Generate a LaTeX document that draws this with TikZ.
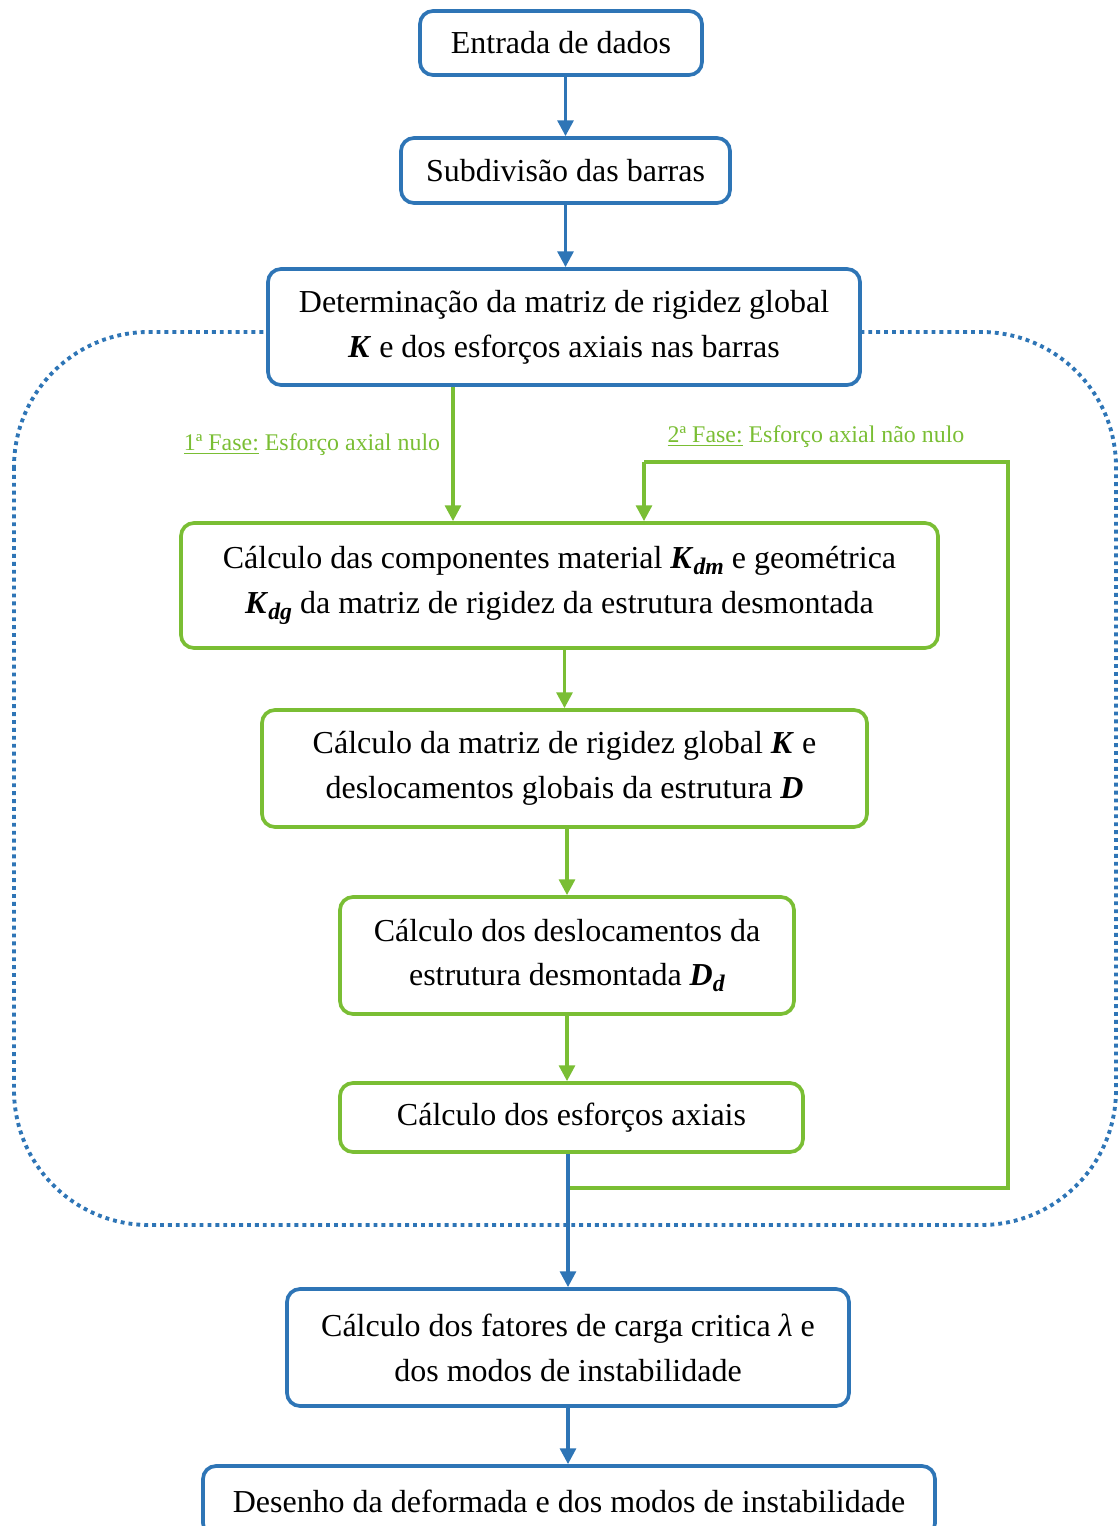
\documentclass[tikz,border=0pt]{standalone}
\usepackage{fontspec}
\setmainfont{Liberation Serif}
\usetikzlibrary{arrows.meta}
\definecolor{azul}{RGB}{46,117,182}
\definecolor{verde}{RGB}{122,190,52}
\newcommand{\bi}[1]{\textbf{\textit{#1}}}
\newcommand{\bsub}[1]{\raisebox{-0.4ex}{\fontsize{13.5}{14}\selectfont\bi{#1}}}
\begin{document}
\begin{tikzpicture}[
  bluebox/.style={draw=azul, line width=2.1pt, rounded corners=0.26cm, fill=white, align=center, font=\fontsize{18.2}{25.5}\selectfont},
  greenbox/.style={draw=verde, line width=2.1pt, rounded corners=0.26cm, fill=white, align=center, font=\fontsize{18.2}{25.5}\selectfont},
  bluearr/.style={draw=azul, line width=2pt, -{Triangle[length=9pt,width=9pt]}},
  greenarr/.style={draw=verde, line width=2pt, -{Triangle[length=9pt,width=9pt]}},
  fase/.style={text=verde, font=\fontsize{13.6}{16}\selectfont}
]
\useasboundingbox (0,0) rectangle (22.34,-30.52);
% ciclo iterativo
\path[draw=azul, line width=2.2pt, dash pattern=on 2.2pt off 2.3pt, rounded corners=2.7cm] (0.28,-6.64) rectangle (22.32,-24.5);
\node[bluebox, minimum width=5.64cm, minimum height=1.28cm] (e1) at (11.22,-0.86) {Entrada de dados};
\node[bluebox, minimum width=6.58cm, minimum height=1.30cm] (e2) at (11.31,-3.41) {Subdivisão das barras};
\node[bluebox, minimum width=11.84cm, minimum height=2.32cm] (e3) at (11.28,-6.54) {Determinação da matriz de rigidez global\\ \bi{K} e dos esforços axiais nas barras};
\node[greenbox, minimum width=15.14cm, minimum height=2.50cm] (e4) at (11.19,-11.71) {Cálculo das componentes material \bi{K}\bsub{dm} e geométrica\\ \bi{K}\bsub{dg} da matriz de rigidez da estrutura desmontada};
\node[greenbox, minimum width=12.10cm, minimum height=2.34cm] (e5) at (11.29,-15.37) {Cálculo da matriz de rigidez global \bi{K} e\\ deslocamentos globais da estrutura \bi{D}};
\node[greenbox, minimum width=9.08cm, minimum height=2.34cm] (e6) at (11.34,-19.11) {Cálculo dos deslocamentos da\\ estrutura desmontada \bi{D}\bsub{d}};
\node[greenbox, minimum width=9.26cm, minimum height=1.38cm] (e7) at (11.43,-22.35) {Cálculo dos esforços axiais};
\node[bluebox, minimum width=11.24cm, minimum height=2.34cm] (e8) at (11.36,-26.95) {Cálculo dos fatores de carga critica \textit{λ} e\\ dos modos de instabilidade};
\node[bluebox, minimum width=14.64cm, minimum height=1.40cm] (e9) at (11.38,-30.02) {Desenho da deformada e dos modos de instabilidade};
% fases
\node[fase] (l1) at (6.24,-8.9) {\underline{1ª Fase:} Esforço axial nulo};
\node[fase] (l2) at (16.32,-8.74) {\underline{2ª Fase:} Esforço axial não nulo};
\coordinate (f1) at (9.06,0);
\coordinate (f2) at (12.88,0);
\coordinate (top) at (20.16,-9.24);
\coordinate (ret) at (20.16,-23.76);
\path[bluearr] (e2.north |- e1.south) -- (e2.north);
\path[bluearr] (e2.south -| e2.north) -- (e3.north -| e2.north);
\path[greenarr] (e3.south -| f1) -- (e4.north -| f1);
\path[greenarr] (e5.north |- e4.south) -- (e5.north);
\path[greenarr] (e5.south -| e6.north) -- (e6.north);
\path[greenarr] (e6.south) -- (e7.north -| e6.south);
\path[draw=verde, line width=2pt] (e8.north |- ret) -- (ret) -- (top) -- (top -| f2);
\path[greenarr] (top -| f2) -- (e4.north -| f2);
\path[bluearr] (e8.north |- e7.south) -- (e8.north);
\path[bluearr] (e8.south) -- (e9.north -| e8.south);
\end{tikzpicture}
\end{document}
